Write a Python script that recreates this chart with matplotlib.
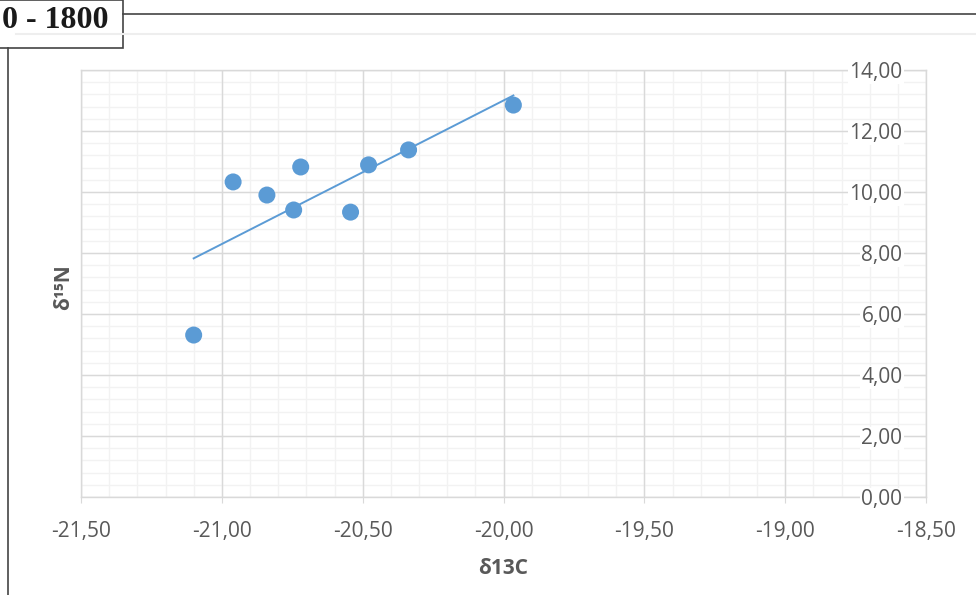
import numpy as np
import matplotlib
matplotlib.use("Agg")
import matplotlib.pyplot as plt
from matplotlib.ticker import MultipleLocator, FuncFormatter
from matplotlib.lines import Line2D
from matplotlib.patches import Rectangle

# valores
d13c = [-21.10, -20.96, -20.84, -20.745, -20.72, -20.543, -20.479, -20.337, -19.965]
d15n = [5.31, 10.33, 9.90, 9.41, 10.82, 9.34, 10.89, 11.38, 12.85]
periodo = "0 - 1800"

W, H = 976, 595
fig = plt.figure(figsize=(W / 100, H / 100), dpi=100)

def fx(px):
    return px / W

def fy(py):
    return 1 - py / H

ax = fig.add_axes([fx(81), fy(497), fx(926) - fx(81), fy(70) - fy(497)])

cinza = "#595959"
grade = "#d9d9d9"
grade_menor = "#f2f2f2"
azul = "#5b9bd5"

xmin, xmax = -21.5, -18.5
ymin, ymax = 0, 14
ax.set_xlim(xmin, xmax)
ax.set_ylim(ymin, ymax)
ax.xaxis.set_major_locator(MultipleLocator(0.5))
ax.yaxis.set_major_locator(MultipleLocator(2))

# grade desenhada por baixo, para os rótulos com fundo branco ficarem por cima
for v in np.arange(xmin, xmax + 1e-9, 0.1):
    ax.axvline(v, color=grade_menor, lw=1, zorder=0)
for v in np.arange(ymin, ymax + 1e-9, 0.4):
    ax.axhline(v, color=grade_menor, lw=1, zorder=0)
for v in np.arange(xmin, xmax + 1e-9, 0.5):
    ax.axvline(v, color=grade, lw=1, zorder=0.1)
for v in np.arange(ymin, ymax + 1e-9, 2):
    ax.axhline(v, color=grade, lw=1, zorder=0.1)

virgula = FuncFormatter(lambda v, p: f"{v:.2f}".replace(".", ","))
ax.xaxis.set_major_formatter(virgula)
ax.yaxis.set_major_formatter(virgula)

for s in ax.spines.values():
    s.set_color(grade)
    s.set_linewidth(1)
    s.set_zorder(0.2)

fonte = ["Open Sans", "DejaVu Sans"]
ax.tick_params(axis="x", which="major", direction="out", length=4, color=grade,
               labelcolor=cinza, labelsize=15, pad=13)
ax.yaxis.tick_right()
ax.tick_params(axis="y", which="major", direction="in", length=4, color=grade,
               labelcolor=cinza, labelsize=15, pad=-17)
ax.tick_params(which="minor", length=0)
for lbl in ax.get_xticklabels() + ax.get_yticklabels():
    lbl.set_family(fonte)
for lbl in ax.get_yticklabels():
    lbl.set_ha("right")
    lbl.set_bbox(dict(facecolor="white", edgecolor="none", pad=1))

# pontos e linha de tendência
ax.scatter(d13c, d15n, s=150, color=azul, zorder=3, edgecolors="none")
coef = np.polyfit(d13c, d15n, 1)
xs = np.array([min(d13c), max(d13c)])
ax.plot(xs, np.polyval(coef, xs), color="#5b9bd5", lw=1.4, zorder=2.8)

fig.text(fx(503), fy(569), "δ13C", ha="center", va="center", color=cinza,
         fontsize=15, fontweight="bold", family=fonte)
fig.text(fx(64), fy(287), "δ¹⁵N", ha="center", va="center", color=cinza,
         fontsize=15, fontweight="bold", family=fonte, rotation=90)

# moldura do painel
fig.add_artist(Line2D([fx(16), fx(976)], [fy(34), fy(34)], color="#eeeeee", lw=1.5))
fig.add_artist(Line2D([fx(123), fx(976)], [fy(14), fy(14)], color="#444444", lw=1.2))
fig.add_artist(Line2D([fx(8), fx(8)], [fy(48), fy(595)], color="#444444", lw=1.2))
fig.add_artist(Rectangle((fx(-5), fy(48)), fx(128), fy(0) - fy(48),
                         transform=fig.transFigure, facecolor="white",
                         edgecolor="#444444", lw=1.2))
fig.text(fx(108), fy(21), periodo, ha="right", va="center", color="#1a1a1a",
         fontsize=23, fontweight="bold", family="Liberation Serif")

fig.savefig("out.png", dpi=100, facecolor="white")
